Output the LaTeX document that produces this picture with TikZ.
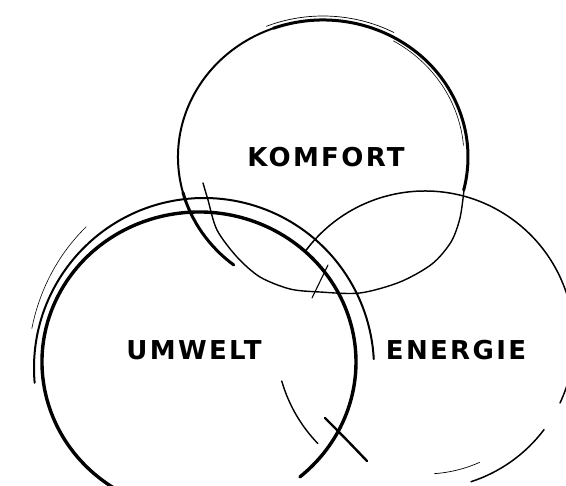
\documentclass[tikz,border=0pt]{standalone}
\usepackage{fontspec}
\newfontfamily\handfont{DejaVu Sans}[LetterSpace=9]
\usepackage{tikz}

\begin{document}
\begin{tikzpicture}[x=1pt,y=-1pt,
    pen/.style={line width=#1,line cap=round},
    pen/.default=1.2,
    word/.style={font=\handfont\bfseries\fontsize{26}{26}\selectfont,
                 inner sep=0pt}]
  \useasboundingbox (0,0) rectangle (566,486);
  \clip (0,0) rectangle (566,486);

  % centres of the three rings
  \coordinate (komC) at (323,157);
  \coordinate (umwC) at (199,362);
  \coordinate (enC)  at (425,340);

  % Komfort ring
  \draw[pen=3] (komC) ++(128:145 and 137)
        arc[start angle=128,end angle=165,x radius=145,y radius=137];
  \draw[pen=2] (komC) ++(165:145 and 137)
        arc[start angle=165,end angle=250,x radius=145,y radius=137];
  \draw[pen=3] (komC) ++(250:145 and 137)
        arc[start angle=250,end angle=374,x radius=145,y radius=137];
  \draw[pen=0.7] (komC) ++(248:151 and 141)
        arc[start angle=248,end angle=298,x radius=151,y radius=141];
  \draw[pen=0.6] (komC) ++(300:141 and 134)
        arc[start angle=300,end angle=355,x radius=141,y radius=134];
  \draw[pen=1.4] plot[smooth] coordinates {(203,183) (208,200) (217,230)
        (237,257) (260,277) (290,289) (320,292) (360,293) (400,282)
        (432,264) (451,242) (460,218) (464,190)};

  % Umwelt ring
  \draw[pen=3.4] (umwC) ++(119:157 and 150)
        arc[start angle=119,end angle=410,x radius=157,y radius=150];
  \draw[pen=2] (umwC) ++(5,6) ++(175:170)
        arc[start angle=175,end angle=357,radius=170];
  \draw[pen=0.6] (umwC) ++(5,6) ++(192:176 and 190)
        arc[start angle=192,end angle=228,x radius=176,y radius=190];
  \draw[pen=0.6] (82,463) -- (97,477);
  \draw[pen=2.4] (325,418) .. controls (343,436) .. (367,461);

  % Energie ring
  \draw[pen=1.5] (enC) ++(217:149) arc[start angle=217,end angle=385,radius=149];
  \draw[pen=1.5] (enC) ++(37:149) arc[start angle=37,end angle=72,radius=149];
  \draw[pen=1.4] (enC) ++(136:149) arc[start angle=136,end angle=164,radius=149];
  \draw[pen=0.7] (enC) ++(66:134) arc[start angle=66,end angle=86,radius=134];
  \draw[pen=1.1] (328,265) -- (312,298);

  % labels
  \node[word] (komfort) at (326,157) {KOMFORT};
  \node[word] (umwelt)  at (194,350) {UMWELT};
  \node[word] (energie) at (456,350) {ENERGIE};
\end{tikzpicture}
\end{document}
